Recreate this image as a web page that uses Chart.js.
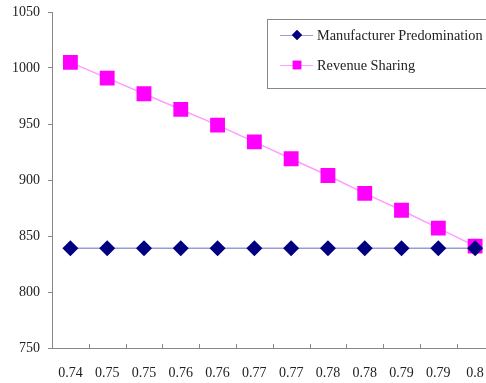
<!DOCTYPE html>
<html>
<head>
<meta charset="utf-8">
<script src="https://cdn.jsdelivr.net/npm/chart.js@4/dist/chart.umd.min.js"></script>
<style>
  html, body { margin: 0; padding: 0; background: #fff; overflow: hidden; }
  canvas { display: block; }
</style>
</head>
<body>
<canvas id="kaavio" width="504" height="383"></canvas>
<script>
// data luettu kuvasta
const labels = ["0.74", "0.75", "0.75", "0.76", "0.76", "0.77", "0.77", "0.78", "0.78", "0.79", "0.79", "0.8"];
const manufacturer = [839, 839, 839, 839, 839, 839, 839, 839, 839, 839, 839, 839];
const revenue = [1005, 991, 977, 963, 949, 934, 919, 904, 888, 873, 857, 841];
const yTicks = [750, 800, 850, 900, 950, 1000, 1050];

const fontti = { family: "'Liberation Serif', 'Times New Roman', serif", size: 14 };

// selite piirretään itse, jotta näytteessä on viiva + merkki
const selite = {
  id: "selite",
  afterDraw(chart) {
    const ctx = chart.ctx;
    ctx.save();
    ctx.strokeStyle = "#888";
    ctx.lineWidth = 1;
    ctx.strokeRect(267.5, 19.5, 240, 69);
    const rivit = [
      { text: "Manufacturer Predomination", y: 35, line: "#9a9ad8", fill: "#000080", style: "rectRot", r: 5 },
      { text: "Revenue Sharing", y: 65, line: "#ff9cff", fill: "#ff00ff", style: "rect", r: 6 }
    ];
    rivit.forEach((it) => {
      ctx.strokeStyle = it.line;
      ctx.lineWidth = 1;
      ctx.beginPath();
      ctx.moveTo(280, it.y + 0.5);
      ctx.lineTo(313, it.y + 0.5);
      ctx.stroke();
      ctx.fillStyle = it.fill;
      ctx.strokeStyle = it.fill;
      Chart.helpers.drawPoint(ctx, { pointStyle: it.style, radius: it.r, borderWidth: 0 }, 297, it.y);
      ctx.fill();
      ctx.fillStyle = "#222";
      ctx.font = "14.3px " + fontti.family;
      ctx.textBaseline = "middle";
      ctx.textAlign = "left";
      ctx.fillText(it.text, 317, it.y + 1);
    });
    ctx.restore();
  }
};

// x-akselin pienet merkit ylöspäin kategorioiden väliin
const xMerkit = {
  id: "xMerkit",
  afterDraw(chart) {
    const sx = chart.scales.x;
    const ctx = chart.ctx;
    const w = sx.getPixelForValue(1) - sx.getPixelForValue(0);
    ctx.save();
    ctx.strokeStyle = "#888";
    ctx.lineWidth = 1;
    for (let i = 0; i < labels.length - 1; i++) {
      const px = Math.round(sx.getPixelForValue(i) + w / 2) + 0.5;
      ctx.beginPath();
      ctx.moveTo(px, sx.top);
      ctx.lineTo(px, sx.top - 4);
      ctx.stroke();
    }
    ctx.restore();
  }
};

new Chart(document.getElementById("kaavio").getContext("2d"), {
  type: "line",
  data: {
    labels: labels,
    datasets: [
      {
        label: "Manufacturer Predomination",
        data: manufacturer,
        borderColor: "#9a9ad8",
        borderWidth: 1.5,
        pointStyle: "rectRot",
        pointRadius: 8,
        pointBackgroundColor: "#000080",
        pointBorderColor: "#000080",
        pointBorderWidth: 0,
        tension: 0
      },
      {
        label: "Revenue Sharing",
        data: revenue,
        borderColor: "#ff9cff",
        borderWidth: 1.5,
        pointStyle: "rect",
        pointRadius: 10.5,
        pointBackgroundColor: "#ff00ff",
        pointBorderColor: "#ff00ff",
        pointBorderWidth: 0,
        tension: 0
      }
    ]
  },
  options: {
    responsive: false,
    animation: false,
    devicePixelRatio: 1,
    layout: { padding: { top: 12, right: 0, left: 0, bottom: 0 } },
    plugins: { legend: { display: false }, tooltip: { enabled: false } },
    scales: {
      x: {
        type: "category",
        offset: true,
        grid: { display: false, drawTicks: false },
        border: { color: "#888", width: 1 },
        ticks: { font: fontti, color: "#222", padding: 17, maxRotation: 0, autoSkip: false },
        afterFit(s) { s.height = 35; s.paddingLeft = 0; s.paddingRight = 0; }
      },
      y: {
        min: 750,
        max: 1050,
        afterBuildTicks(s) { s.ticks = yTicks.map((v) => ({ value: v })); },
        grid: { display: true, drawOnChartArea: false, tickLength: 4, color: "#888" },
        border: { color: "#888", width: 1 },
        ticks: { font: fontti, color: "#222", padding: 8, callback: (v) => String(v) },
        afterFit(s) { s.width = 52; s.paddingTop = 0; s.paddingBottom = 0; }
      }
    }
  },
  plugins: [selite, xMerkit]
});
</script>
</body>
</html>
